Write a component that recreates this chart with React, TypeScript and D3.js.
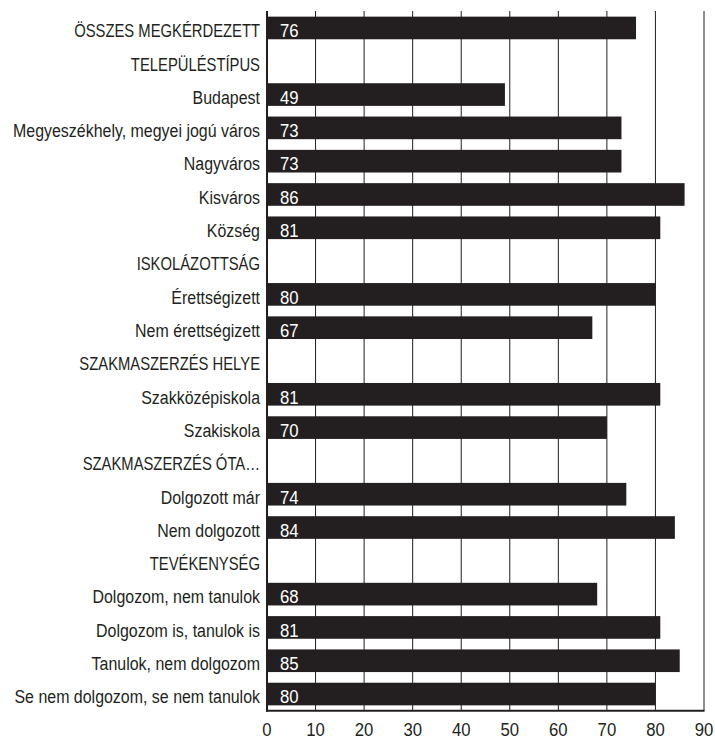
import React from "react";
import * as d3 from "d3";

const categories: string[] = [
  "ÖSSZES MEGKÉRDEZETT",
  "TELEPÜLÉSTÍPUS",
  "Budapest",
  "Megyeszékhely, megyei jogú város",
  "Nagyváros",
  "Kisváros",
  "Község",
  "ISKOLÁZOTTSÁG",
  "Érettségizett",
  "Nem érettségizett",
  "SZAKMASZERZÉS HELYE",
  "Szakközépiskola",
  "Szakiskola",
  "SZAKMASZERZÉS ÓTA…",
  "Dolgozott már",
  "Nem dolgozott",
  "TEVÉKENYSÉG",
  "Dolgozom, nem tanulok",
  "Dolgozom is, tanulok is",
  "Tanulok, nem dolgozom",
  "Se nem dolgozom, se nem tanulok",
];

const values: (number | null)[] = [
  76, null, 49, 73, 73, 86, 81, null, 80, 67, null, 81, 70, null, 74, 84, null, 68, 81, 85, 80,
];

const tickValues: number[] = [0, 10, 20, 30, 40, 50, 60, 70, 80, 90];

const W = 715;
const H = 739;
const FONT = "'Liberation Sans', Arial, sans-serif";
const FS = 19;
const CAPS_SX = 0.78;
const LABEL_SX = 0.84;
const NUM_SX = 0.88;

export default function App() {
  const x = d3.scaleLinear().domain([0, 90]).range([267, 704]);
  const y = d3
    .scaleBand<string>()
    .domain(categories)
    .range([11.3, 710.7])
    .paddingInner(0.32)
    .paddingOuter(0.16);

  const top = 11;
  const bottom = 710.7;

  return (
    <svg
      width={W}
      height={H}
      style={{ position: "absolute", left: 0, top: 0, background: "#fff" }}
      fontFamily={FONT}
    >
      {tickValues.slice(1).map((t) => (
        <line key={"g" + t} x1={x(t)} x2={x(t)} y1={top} y2={bottom} stroke="#231f20" strokeWidth={1} />
      ))}
      {categories.map((c, i) => {
        const v = values[i];
        const yy = y(c)!;
        const bh = y.bandwidth();
        const base = yy + bh / 2 + 9.3;
        const isCaps = c === c.toUpperCase();
        return (
          <g key={c}>
            <text
              transform={`translate(260,${base}) scale(${isCaps ? CAPS_SX : LABEL_SX},1)`}
              textAnchor="end"
              fontSize={FS}
              fill="#231f20"
            >
              {c}
            </text>
            {v !== null && (
              <>
                <rect x={x(0)} y={yy} width={x(v) - x(0)} height={bh} fill="#231f20" />
                <text
                  transform={`translate(280,${base}) scale(${NUM_SX},1)`}
                  fontSize={FS}
                  fill="#fff"
                >
                  {v}
                </text>
              </>
            )}
          </g>
        );
      })}
      <line x1={x(0)} x2={x(0)} y1={top} y2={bottom + 1} stroke="#231f20" strokeWidth={2} />
      <line x1={x(0) - 1} x2={x(90) + 0.5} y1={bottom} y2={bottom} stroke="#231f20" strokeWidth={2} />
      {tickValues.map((t) => (
        <text
          key={"t" + t}
          transform={`translate(${x(t)},736) scale(${NUM_SX},1)`}
          textAnchor="middle"
          fontSize={FS}
          fill="#231f20"
        >
          {t}
        </text>
      ))}
    </svg>
  );
}
